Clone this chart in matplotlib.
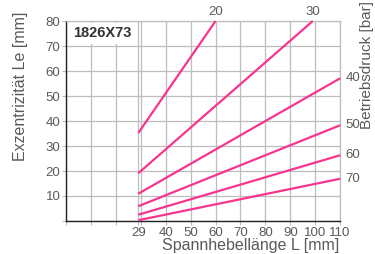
import matplotlib
matplotlib.use("Agg")
import matplotlib.pyplot as plt

plt.rcParams['font.family'] = ['Liberation Sans', 'DejaVu Sans']

# pressure curves (bar): start at L=29, end where they leave the chart
pressures = [20, 30, 40, 50, 60, 70]
x_start = [29, 29, 29, 29, 29, 29]
y_start = [35.2, 19.1, 10.9, 5.9, 2.5, 0.3]
x_end = [60, 99, 110, 110, 110, 110]
y_end = [80, 80, 57.1, 38.3, 26.3, 16.9]

xticks = [0, 10, 20, 29, 30, 40, 50, 60, 70, 80, 90, 100, 110]
xlabels = ['', '', '', '29', '', '40', '50', '60', '70', '80', '90', '100', '110']
yticks = [0, 10, 20, 30, 40, 50, 60, 70, 80]
ylabels = ['', '10', '20', '30', '40', '50', '60', '70', '80']

pink = '#f7348e'
grey = '#5a5a5a'
gridc = '#bdbdbd'

fig = plt.figure(figsize=(3.75, 2.54), dpi=100)
ax = fig.add_axes([0.176, 0.13, 0.731, 0.787])

for p, xs, ys, xe, ye in zip(pressures, x_start, y_start, x_end, y_end):
    ax.plot([xs, xe], [ys, ye], color=pink, lw=1.6, solid_capstyle='butt', zorder=3, clip_on=False)
    if ye >= 80:
        ax.annotate(str(p), (xe, ye), xytext=(0, 2), textcoords='offset points',
                    ha='center', va='bottom', fontsize=9.5, color=grey, annotation_clip=False)
    else:
        ax.annotate(str(p), (xe, ye), xytext=(4, 0), textcoords='offset points',
                    ha='left', va='center', fontsize=9.5, color=grey, annotation_clip=False)

ax.set_xlim(0, 110)
ax.set_ylim(0, 80)
ax.set_xticks(xticks)
ax.set_xticklabels(xlabels)
ax.set_yticks(yticks)
ax.set_yticklabels(ylabels)
ax.grid(True, color=gridc, lw=0.9, zorder=0)
ax.tick_params(axis='both', colors=gridc, labelcolor=grey, labelsize=9.5, length=3, width=0.8, pad=1)
for s in ['top', 'right']:
    ax.spines[s].set_color(gridc)
    ax.spines[s].set_linewidth(0.9)
for s in ['left', 'bottom']:
    ax.spines[s].set_color('#222222')
    ax.spines[s].set_linewidth(1.0)

ax.text(0.025, 0.975, '1826X73', transform=ax.transAxes, ha='left', va='top',
        fontsize=10.5, fontweight='bold', color='#333333', zorder=5,
        bbox=dict(facecolor='white', edgecolor='none', pad=2.5))

fig.text(0.055, 0.955, 'Exzentrizität Le [mm]', rotation=90, ha='center', va='top',
         fontsize=11.5, color=grey)
fig.text(0.978, 0.995, 'Betriebsdruck [bar]', rotation=90, ha='center', va='top',
         fontsize=11, color=grey)
fig.text(0.905, 0.035, 'Spannhebellänge L [mm]', ha='right', va='center',
         fontsize=11.5, color=grey)

fig.savefig('out.png', dpi=100)
